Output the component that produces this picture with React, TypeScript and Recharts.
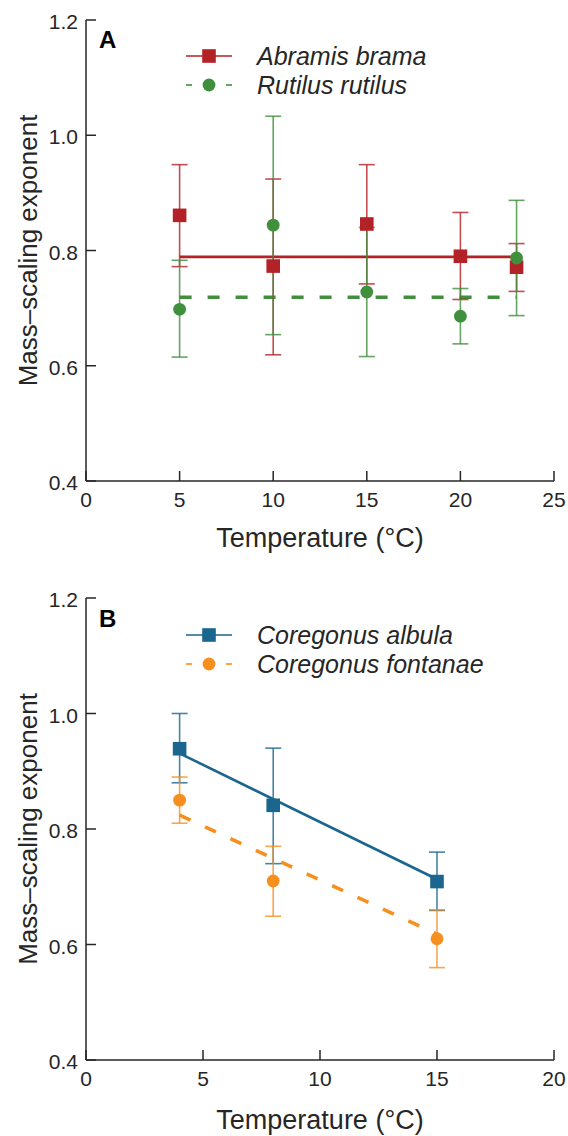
import React from 'react';
import { ComposedChart, Scatter, Line, XAxis, YAxis, ErrorBar } from 'recharts';

const FONT = '"Liberation Sans", Arial, Helvetica, sans-serif';
const INK = '#262626';

// Panel A – temperatures and exponents (mean, lower, upper)
const tempA = [5, 10, 15, 20, 23];
const abramisMean = [0.861, 0.773, 0.846, 0.79, 0.771];
const abramisLow = [0.772, 0.619, 0.742, 0.715, 0.729];
const abramisHigh = [0.949, 0.924, 0.949, 0.866, 0.812];
const rutilusMean = [0.698, 0.844, 0.728, 0.686, 0.787];
const rutilusLow = [0.615, 0.654, 0.616, 0.638, 0.687];
const rutilusHigh = [0.783, 1.033, 0.84, 0.734, 0.887];
const fitXA = [5, 23];
const abramisFit = [0.789, 0.789];
const rutilusFit = [0.719, 0.719];

// Panel B
const tempB = [4, 8, 15];
const albulaMean = [0.939, 0.841, 0.709];
const albulaLow = [0.88, 0.74, 0.659];
const albulaHigh = [1.0, 0.94, 0.76];
const fontanaeMean = [0.85, 0.71, 0.61];
const fontanaeLow = [0.81, 0.649, 0.56];
const fontanaeHigh = [0.89, 0.77, 0.66];
const fitXB = [4, 15];
const albulaFit = [0.931, 0.713];
const fontanaeFit = [0.824, 0.618];

const yTicks = [0.4, 0.6, 0.8, 1.0, 1.2];
const yDomain = [0.4, 1.2];
const xTicksA = [0, 5, 10, 15, 20, 25];
const xTicksB = [0, 5, 10, 15, 20];

const points = (xs: number[], mean: number[], lo: number[], hi: number[]) =>
  xs.map((x, i) => ({ x, y: mean[i], err: [mean[i] - lo[i], hi[i] - mean[i]] }));
const line = (xs: number[], ys: number[]) => xs.map((x, i) => ({ x, y: ys[i] }));

interface Series {
  name: string;
  color: string;
  marker: 'square' | 'circle';
  dashed: boolean;
  pts: { x: number; y: number; err: number[] }[];
  fit: { x: number; y: number }[];
}

const panelA: Series[] = [
  { name: 'Abramis brama', color: '#b32226', marker: 'square', dashed: false, pts: points(tempA, abramisMean, abramisLow, abramisHigh), fit: line(fitXA, abramisFit) },
  { name: 'Rutilus rutilus', color: '#3f8f3c', marker: 'circle', dashed: true, pts: points(tempA, rutilusMean, rutilusLow, rutilusHigh), fit: line(fitXA, rutilusFit) },
];
const panelB: Series[] = [
  { name: 'Coregonus albula', color: '#1a668e', marker: 'square', dashed: false, pts: points(tempB, albulaMean, albulaLow, albulaHigh), fit: line(fitXB, albulaFit) },
  { name: 'Coregonus fontanae', color: '#f78f1e', marker: 'circle', dashed: true, pts: points(tempB, fontanaeMean, fontanaeLow, fontanaeHigh), fit: line(fitXB, fontanaeFit) },
];

// inward ticks: negative tick size, margin pushes labels back outside
const TICK = -10;
const MARGIN = 18;

const Marker = ({ kind, cx, cy, color }: any) =>
  kind === 'square'
    ? <rect x={cx - 6.8} y={cy - 6.8} width={13.6} height={13.6} fill={color} />
    : <circle cx={cx} cy={cy} r={6.4} fill={color} />;

const BottomTick = ({ x, y, payload }: any) => (
  <text x={x} y={y} dy={17.5} textAnchor="middle" fontSize={21} fill={INK} fontFamily={FONT}>{payload.value}</text>
);

const LeftTick = ({ x, y, payload }: any) => (
  <text x={x} y={y} dy={9} textAnchor="end" fontSize={21} fill={INK} fontFamily={FONT}>{payload.value.toFixed(1)}</text>
);

interface PanelProps {
  letter: string;
  series: Series[];
  xTicks: number[];
  top: number;
  bottom: number;
  titleGap: number;
  legendTop: number;
  letterBase: number;
}

function Panel({ letter, series, xTicks, top, bottom, titleGap, legendTop, letterBase }: PanelProps) {
  const xDomain = [xTicks[0], xTicks[xTicks.length - 1]];
  const axisLine = { stroke: INK, strokeWidth: 1.5 };
  const tickLine = { stroke: INK, strokeWidth: 1.5 };
  return (
    <div style={{ position: 'relative', width: 568, height: 568 }}>
      <ComposedChart width={568} height={568} margin={{ top, right: 14, bottom, left: 26 }}>
        <XAxis
          type="number" dataKey="x" domain={xDomain} ticks={xTicks} allowDataOverflow
          height={40} tickSize={TICK} tickMargin={MARGIN} tickLine={tickLine} axisLine={axisLine}
          tick={(p: any) => <BottomTick {...p} />}
          label={{
            content: ({ viewBox }: any) => (
              <text x={viewBox.x + viewBox.width / 2} y={viewBox.y + titleGap} dy={9.5} textAnchor="middle" fontSize={27} fill={INK} fontFamily={FONT}>
                Temperature (°C)
              </text>
            ),
          }}
        />
        <XAxis
          xAxisId="top" orientation="top" type="number" dataKey="x" domain={xDomain} allowDataOverflow
          ticks={xTicks} height={0} tickSize={TICK} tickMargin={0} tickLine={tickLine} axisLine={axisLine}
          tick={{ fill: 'none', fontSize: 1 }} tickFormatter={() => ''}
        />
        <YAxis
          type="number" domain={yDomain} ticks={yTicks} allowDataOverflow
          width={60} tickSize={TICK} tickMargin={MARGIN} tickLine={tickLine} axisLine={axisLine}
          tick={(p: any) => <LeftTick {...p} />}
          label={{
            content: ({ viewBox }: any) => {
              const cx = viewBox.x + 2;
              const cy = viewBox.y + viewBox.height / 2;
              return (
                <text x={cx} y={cy} dy={9} transform={`rotate(-90, ${cx}, ${cy})`} textAnchor="middle" fontSize={26} fill={INK} fontFamily={FONT}>
                  Mass–scaling exponent
                </text>
              );
            },
          }}
        />
        <YAxis
          yAxisId="right" orientation="right" type="number" domain={yDomain} allowDataOverflow
          ticks={yTicks} width={0} tickSize={TICK} tickMargin={0} tickLine={tickLine} axisLine={axisLine}
          tick={{ fill: 'none', fontSize: 1 }} tickFormatter={() => ''}
        />
        {series.map((s) => (
          <Line
            key={s.name + '-fit'} data={s.fit} dataKey="y" type="linear" stroke={s.color}
            strokeWidth={s.dashed ? 3.5 : 2.6} strokeDasharray={s.dashed ? '12 16' : undefined}
            dot={false} activeDot={false} isAnimationActive={false}
          />
        ))}
        {series.map((s) => (
          <Scatter
            key={s.name} name={s.name} data={s.pts} dataKey="y" fill={s.color} isAnimationActive={false}
            shape={(p: any) => <Marker kind={s.marker} cx={p.cx} cy={p.cy} color={s.color} />}
          >
            <ErrorBar dataKey="err" direction="y" width={8} stroke={s.color} strokeWidth={1.6} strokeOpacity={0.8} isAnimationActive={false} />
          </Scatter>
        ))}
      </ComposedChart>
      <svg width={568} height={568} style={{ position: 'absolute', left: 0, top: 0, pointerEvents: 'none' }}>
        <text x={99} y={letterBase} fontSize={24} fontWeight="bold" fill="#000" fontFamily={FONT}>{letter}</text>
        {series.map((s, i) => {
          const cy = legendTop + i * 29;
          return (
            <g key={s.name}>
              {s.dashed ? (
                <>
                  <line x1={186} x2={192} y1={cy} y2={cy} stroke={s.color} strokeWidth={1.6} />
                  <line x1={226} x2={232} y1={cy} y2={cy} stroke={s.color} strokeWidth={1.6} />
                </>
              ) : (
                <line x1={186} x2={232} y1={cy} y2={cy} stroke={s.color} strokeWidth={1.6} />
              )}
              <Marker kind={s.marker} cx={209} cy={cy} color={s.color} />
              <text x={257} y={cy} dy={9} fontSize={25} fontStyle="italic" fill={INK} fontFamily={FONT}>{s.name}</text>
            </g>
          );
        })}
      </svg>
    </div>
  );
}

export default function App() {
  return (
    <div style={{ position: 'absolute', left: 0, top: 0, width: 568, height: 1136, background: '#fff', overflow: 'hidden' }}>
      <Panel letter="A" series={panelA} xTicks={xTicksA} top={20} bottom={47} titleGap={56} legendTop={56} letterBase={48} />
      <Panel letter="B" series={panelB} xTicks={xTicksB} top={30} bottom={36} titleGap={59} legendTop={67} letterBase={59} />
    </div>
  );
}
